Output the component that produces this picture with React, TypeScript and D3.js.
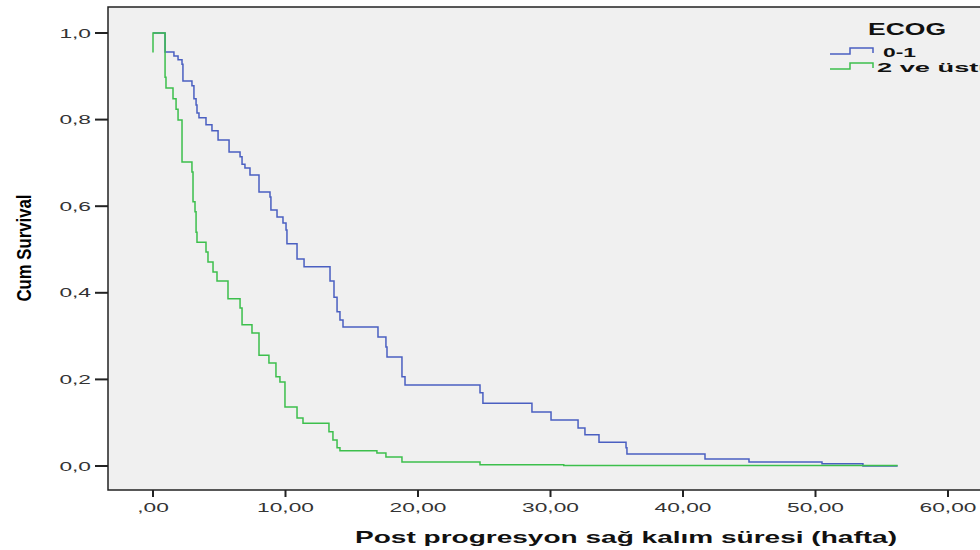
import React, { useEffect, useRef } from 'react';
import * as d3 from 'd3';

// x tick values and labels
const xTicks = [0, 10, 20, 30, 40, 50, 60];
const xTickLabels = [',00', '10,00', '20,00', '30,00', '40,00', '50,00', '60,00'];
const yTicks = [0, 0.2, 0.4, 0.6, 0.8, 1.0];
const yTickLabels = ['0,0', '0,2', '0,4', '0,6', '0,8', '1,0'];

// ECOG 0-1 (step function, survival after each time)
const blueTimes = [0, 0.91, 1.58, 1.89, 2.19, 2.26, 2.94, 3.09, 3.25, 3.32, 3.47, 4.0, 4.45, 4.91, 5.74, 6.57, 6.72, 6.94, 7.32, 8.0, 8.83, 8.9, 9.36, 9.81, 10.04, 10.11, 10.87, 11.4, 13.36, 13.66, 13.89, 14.11, 14.34, 16.98, 17.58, 17.66, 18.79, 19.02, 24.68, 24.9, 28.6, 30.04, 32.08, 32.6, 33.66, 35.7, 35.77, 41.66, 44.98, 50.49, 53.58, 56.2];
const blueSurv = [1.0, 0.956, 0.947, 0.938, 0.928, 0.889, 0.878, 0.848, 0.834, 0.815, 0.804, 0.788, 0.774, 0.753, 0.725, 0.714, 0.697, 0.688, 0.672, 0.633, 0.621, 0.591, 0.575, 0.561, 0.545, 0.513, 0.478, 0.46, 0.427, 0.39, 0.356, 0.337, 0.321, 0.298, 0.275, 0.252, 0.206, 0.187, 0.169, 0.145, 0.125, 0.106, 0.088, 0.072, 0.055, 0.042, 0.028, 0.016, 0.009, 0.005, 0.0, 0.0];

// ECOG 2 ve üstü
const greenTimes = [0, 0, 0.91, 0.98, 1.51, 1.74, 1.89, 2.19, 2.94, 3.02, 3.17, 3.25, 3.32, 4.0, 4.15, 4.53, 4.83, 5.66, 6.57, 6.72, 7.47, 8.0, 8.75, 9.28, 9.58, 9.96, 10.87, 11.32, 13.28, 13.58, 13.89, 14.11, 16.9, 17.58, 18.79, 24.68, 31.0, 56.2];
const greenSurv = [0.955, 1.0, 0.898, 0.873, 0.848, 0.824, 0.799, 0.702, 0.679, 0.61, 0.587, 0.54, 0.517, 0.494, 0.471, 0.448, 0.427, 0.386, 0.365, 0.326, 0.307, 0.256, 0.238, 0.206, 0.194, 0.136, 0.111, 0.099, 0.079, 0.06, 0.042, 0.035, 0.03, 0.021, 0.009, 0.003, 0.001, 0.001];

const BLUE = '#4a5fc1';
const GREEN = '#3cbf4c';

const App = () => {
  const svgRef = useRef(null);

  useEffect(() => {
    const svg = d3.select(svgRef.current);
    svg.selectAll('*').remove();

    const x = d3.scaleLinear().domain([0, 60]).range([153, 948]);
    const y = d3.scaleLinear().domain([0, 1]).range([466, 33]);
    const frame = { left: 108, top: 7, bottom: 490 };
    const sx = 1.75;

    // plot background + frame
    svg.append('rect')
      .attr('x', frame.left).attr('y', frame.top)
      .attr('width', 1000).attr('height', frame.bottom - frame.top)
      .attr('fill', '#f0f0f0').attr('stroke', '#222').attr('stroke-width', 1.5);

    // curves
    const line = d3.line<[number, number]>()
      .x(d => x(d[0])).y(d => y(d[1]))
      .curve(d3.curveStepAfter);

    const series = [
      { t: blueTimes, s: blueSurv, color: BLUE },
      { t: greenTimes, s: greenSurv, color: GREEN },
    ];
    series.forEach(sr => {
      const pts = sr.t.map((t, i) => [t, sr.s[i]] as [number, number]);
      svg.append('path')
        .attr('d', line(pts))
        .attr('fill', 'none')
        .attr('stroke', sr.color)
        .attr('stroke-width', 1.5);
    });

    // y axis ticks
    const yg = svg.append('g');
    yTicks.forEach((v, i) => {
      yg.append('line')
        .attr('x1', 95).attr('x2', frame.left)
        .attr('y1', y(v)).attr('y2', y(v))
        .attr('stroke', '#222').attr('stroke-width', 2);
      yg.append('text')
        .attr('transform', `translate(91,${y(v) + 4.5}) scale(${sx},1)`)
        .attr('text-anchor', 'end')
        .attr('font-family', 'Liberation Sans, Arial, sans-serif')
        .attr('font-size', 13)
        .attr('fill', '#333')
        .text(yTickLabels[i]);
    });

    // x axis ticks
    const xg = svg.append('g');
    xTicks.forEach((v, i) => {
      xg.append('line')
        .attr('x1', x(v)).attr('x2', x(v))
        .attr('y1', frame.bottom).attr('y2', frame.bottom + 7)
        .attr('stroke', '#222').attr('stroke-width', 2);
      xg.append('text')
        .attr('transform', `translate(${x(v)},512) scale(${sx},1)`)
        .attr('text-anchor', 'middle')
        .attr('font-family', 'Liberation Sans, Arial, sans-serif')
        .attr('font-size', 13)
        .attr('fill', '#333')
        .text(xTickLabels[i]);
    });

    // axis titles
    svg.append('text')
      .attr('x', 355).attr('y', 543)
      .attr('textLength', 542).attr('lengthAdjust', 'spacingAndGlyphs')
      .attr('font-family', 'Liberation Sans, Arial, sans-serif')
      .attr('font-weight', 'bold').attr('font-size', 17)
      .attr('fill', '#111')
      .text('Post progresyon sağ kalım süresi (hafta)');

    svg.append('text')
      .attr('transform', 'translate(31,248) rotate(-90)')
      .attr('text-anchor', 'middle')
      .attr('textLength', 107).attr('lengthAdjust', 'spacingAndGlyphs')
      .attr('font-family', 'Liberation Sans Narrow, Liberation Sans, Arial, sans-serif')
      .attr('font-weight', 'bold')
      .attr('font-size', 20)
      .attr('fill', '#000')
      .text('Cum Survival');

    // legend
    svg.append('text')
      .attr('x', 868).attr('y', 35)
      .attr('textLength', 78).attr('lengthAdjust', 'spacingAndGlyphs')
      .attr('font-family', 'Liberation Sans, Arial, sans-serif')
      .attr('font-weight', 'bold').attr('font-size', 16)
      .attr('fill', '#111')
      .text('ECOG');

    const legend = [
      { label: '0-1', color: BLUE, y0: 54, tx: 883, len: 33 },
      { label: '2 ve üstü', color: GREEN, y0: 69, tx: 877, len: 118 },
    ];
    legend.forEach(l => {
      svg.append('path')
        .attr('d', `M830,${l.y0}H850V${l.y0 - 6}H873V${l.y0 - 1}`)
        .attr('fill', 'none').attr('stroke', l.color).attr('stroke-width', 1.5);
      svg.append('text')
        .attr('x', l.tx).attr('y', l.y0 + 3)
        .attr('textLength', l.len).attr('lengthAdjust', 'spacingAndGlyphs')
        .attr('font-family', 'Liberation Sans, Arial, sans-serif')
        .attr('font-weight', 'bold').attr('font-size', 13)
        .attr('fill', '#111')
        .text(l.label);
    });
  }, []);

  return (
    <svg ref={svgRef} width={980} height={550}
      style={{ position: 'absolute', left: 0, top: 0, background: '#fff' }} />
  );
};

export default App;
